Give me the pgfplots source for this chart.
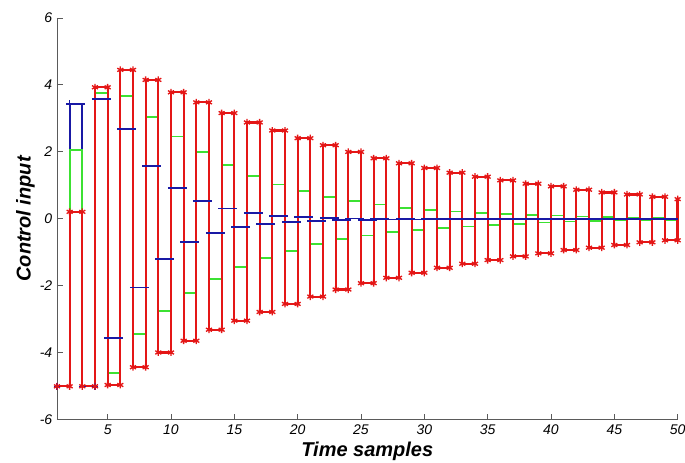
\documentclass[border=0pt]{standalone}
\usepackage{pgfplots}
\pgfplotsset{compat=1.18}
\usepackage{pgfplotstable}
\usepackage{fontspec}
\setmainfont{Liberation Sans}
\definecolor{cred}{RGB}{228,22,22}
\definecolor{cgreen}{RGB}{60,225,50}
\definecolor{cblue}{RGB}{25,25,165}
\definecolor{caxis}{RGB}{90,90,90}

\pgfplotstableread{
k red green
1 -5.00 -5.00
2 0.21 2.06
3 -5.00 -5.00
4 3.93 3.77
5 -4.96 -4.60
6 4.45 3.67
7 -4.43 -3.44
8 4.15 3.04
9 -3.99 -2.74
10 3.78 2.46
11 -3.64 -2.22
12 3.48 1.99
13 -3.31 -1.79
14 3.16 1.60
15 -3.04 -1.44
16 2.88 1.29
17 -2.78 -1.16
18 2.64 1.03
19 -2.54 -0.95
20 2.41 0.83
21 -2.32 -0.76
22 2.20 0.66
23 -2.11 -0.61
24 2.00 0.53
25 -1.92 -0.50
26 1.81 0.43
27 -1.76 -0.40
28 1.66 0.33
29 -1.61 -0.33
30 1.52 0.27
31 -1.46 -0.28
32 1.38 0.22
33 -1.34 -0.23
34 1.26 0.18
35 -1.23 -0.18
36 1.15 0.15
37 -1.12 -0.15
38 1.05 0.12
39 -1.03 -0.11
40 0.97 0.10
41 -0.93 -0.08
42 0.87 0.07
43 -0.86 -0.07
44 0.79 0.05
45 -0.78 -0.05
46 0.73 0.04
47 -0.70 -0.04
48 0.66 0.03
49 -0.64 -0.03
50 0.59 0.02
}\data

\begin{document}
\begin{tikzpicture}
\useasboundingbox (-42.75pt,-32.25pt) rectangle (471.25pt,315pt);
\begin{axis}[
  anchor=south west, at={(0,0)},
  scale only axis, width=465.75pt, height=301.5pt,
  xmin=1, xmax=50, ymin=-6, ymax=6,
  axis x line*=bottom, axis y line*=left,
  axis line style={draw=caxis, line width=0.7pt, -},
  tick align=inside, major tick length=4.5pt,
  tick style={draw=caxis, line width=0.7pt},
  xtick={5,10,...,50}, ytick={-6,-4,...,6},
  /pgf/number format/assume math mode=true,
  tick label style={font=\fontsize{10.5}{12}\selectfont\itshape},
  xlabel={Time samples}, ylabel={Control input},
  label style={font=\fontsize{15}{18}\selectfont\bfseries\itshape},
  xlabel style={yshift=1.5pt},
  ylabel style={yshift=-3pt},
  unbounded coords=jump,
  clip=false,
]
% blue: initial stairs (under the others)
\addplot[cblue, line width=1.4pt, const plot, mark=+, mark size=2.5pt,
  mark options={solid, line width=1pt}]
  coordinates {(1,-5) (2,3.44) (3,-5) (4,-5)};
% green stairs
\addplot[cgreen, line width=1.3pt, const plot, mark=none]
  table[x=k, y=green] {\data};
% red stairs
\addplot[cred, line width=1.6pt, const plot, mark=asterisk, mark size=2.6pt,
  mark options={solid, line width=1pt}]
  table[x=k, y=red] {\data};
\addplot[cred, line width=1.6pt, mark=none] coordinates {(49.98,-0.64) (49.98,0.59)};
\addplot[cred, only marks, mark=asterisk, mark size=2.6pt,
  mark options={solid, line width=1pt}, skip coords between index={49}{50}]
  table[x expr=\thisrow{k}+1, y=red] {\data};
% blue horizontal segments (on top)
\addplot[cblue, line width=1.4pt, mark=none] coordinates {
(1.75,3.44) (3.25,3.44) (3.5,nan)
(3.75,3.59) (5.25,3.59) (5.5,nan)
(4.75,-3.57) (6.25,-3.57) (6.5,nan)
(5.75,2.69) (7.25,2.69) (7.5,nan)
(6.75,-2.05) (8.25,-2.05) (8.5,nan)
(7.75,1.57) (9.25,1.57) (9.5,nan)
(8.75,-1.20) (10.25,-1.20) (10.5,nan)
(9.75,0.92) (11.25,0.92) (11.5,nan)
(10.75,-0.69) (12.25,-0.69) (12.5,nan)
(11.75,0.53) (13.25,0.53) (13.5,nan)
(12.75,-0.41) (14.25,-0.41) (14.5,nan)
(13.75,0.31) (15.25,0.31) (15.5,nan)
(14.75,-0.24) (16.25,-0.24) (16.5,nan)
(15.75,0.17) (17.25,0.17) (17.5,nan)
(16.75,-0.14) (18.25,-0.14) (18.5,nan)
(17.75,0.09) (19.25,0.09) (19.5,nan)
(18.75,-0.09) (20.25,-0.09) (20.5,nan)
(19.75,0.05) (21.25,0.05) (21.5,nan)
(20.75,-0.06) (22.25,-0.06) (22.5,nan)
(21.75,0.02) (23.25,0.02) (23.5,nan)
(22.75,-0.04) (24.25,-0.04) (24.5,nan)
(23.75,0.01) (25.25,0.01) (25.5,nan)
(24.75,-0.03) (26.25,-0.03) (26.5,nan)
(25.75,0.00) (27.25,0.00) (27.5,nan)
(26.75,-0.02) (28.25,-0.02) (28.5,nan)
(27.75,0.00) (29.25,0.00) (29.5,nan)
(28.75,-0.02) (30.25,-0.02) (30.5,nan)
(29.75,0.00) (31.25,0.00) (31.5,nan)
(30.75,-0.01) (32.25,-0.01) (32.5,nan)
(31.75,0.00) (33.25,0.00) (33.5,nan)
(32.75,-0.01) (34.25,-0.01) (34.5,nan)
(33.75,0.00) (35.25,0.00) (35.5,nan)
(34.75,-0.01) (36.25,-0.01) (36.5,nan)
(35.75,0.00) (37.25,0.00) (37.5,nan)
(36.75,-0.01) (38.25,-0.01) (38.5,nan)
(37.75,0.00) (39.25,0.00) (39.5,nan)
(38.75,-0.01) (40.25,-0.01) (40.5,nan)
(39.75,0.00) (41.25,0.00) (41.5,nan)
(40.75,-0.01) (42.25,-0.01) (42.5,nan)
(41.75,0.00) (43.25,0.00) (43.5,nan)
(42.75,0.00) (44.25,0.00) (44.5,nan)
(43.75,0.00) (45.25,0.00) (45.5,nan)
(44.75,0.00) (46.25,0.00) (46.5,nan)
(45.75,0.00) (47.25,0.00) (47.5,nan)
(46.75,0.00) (48.25,0.00) (48.5,nan)
(47.75,0.00) (49.25,0.00) (49.5,nan)
(48.75,0.00) (50,0.00)
};
\end{axis}
\end{tikzpicture}
\end{document}
